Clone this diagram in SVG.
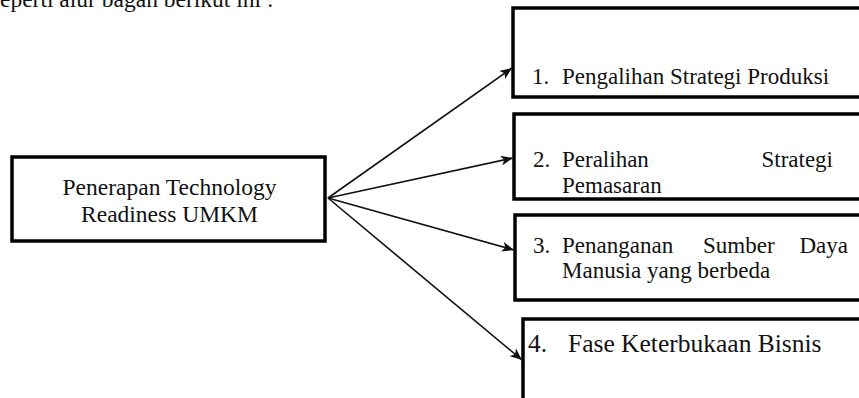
<svg xmlns="http://www.w3.org/2000/svg" width="859" height="398" viewBox="0 0 859 398">
<style>
text{font-family:"Liberation Serif","Times New Roman",serif;font-size:23px;fill:#111}
.box{fill:#fff;stroke:#000;stroke-width:3.5}
.con{stroke:#111;stroke-width:1.6;fill:none}
</style>
<defs>
<marker id="ah" viewBox="0 0 12 10" refX="12" refY="5" markerWidth="12" markerHeight="10" markerUnits="userSpaceOnUse" orient="auto">
<path d="M0,0 L12,5 L0,10 L3,5 Z" fill="#111"/>
</marker>
</defs>
<rect width="859" height="398" fill="#fff"/>
<text x="0" y="7" style="font-size:23.5px">eperti alur bagan berikut ini :</text>
<g id="main">
<rect class="box" x="12" y="157" width="313" height="84"/>
<text x="169.5" y="195" text-anchor="middle" style="font-size:23.5px">Penerapan Technology</text>
<text x="169.5" y="222" text-anchor="middle" style="font-size:23.5px">Readiness UMKM</text>
</g>
<g id="n1">
<rect class="box" x="513" y="8" width="360" height="89"/>
<text x="532" y="84">1.</text>
<text x="562" y="84">Pengalihan Strategi Produksi</text>
</g>
<g id="n2">
<rect class="box" x="514" y="114" width="360" height="85"/>
<text x="533" y="167">2.</text>
<text x="562" y="167">Peralihan</text>
<text x="833" y="167" text-anchor="end">Strategi</text>
<text x="562" y="193">Pemasaran</text>
</g>
<g id="n3">
<rect class="box" x="515" y="215" width="360" height="85"/>
<text x="533" y="253">3.</text>
<text x="562" y="253">Penanganan</text>
<text x="703" y="253">Sumber</text>
<text x="848" y="253" text-anchor="end">Daya</text>
<text x="562" y="278">Manusia yang berbeda</text>
</g>
<g id="n4">
<rect class="box" x="523" y="319" width="360" height="100"/>
<text x="528" y="352" style="font-size:25.5px">4.</text>
<text x="568" y="352" style="font-size:25.5px">Fase Keterbukaan Bisnis</text>
</g>
<g id="connectors">
<line class="con" x1="328" y1="198" x2="512" y2="68" marker-end="url(#ah)"/>
<line class="con" x1="328" y1="198" x2="513" y2="158" marker-end="url(#ah)"/>
<line class="con" x1="328" y1="198" x2="514" y2="250" marker-end="url(#ah)"/>
<line class="con" x1="328" y1="198" x2="522" y2="360" marker-end="url(#ah)"/>
</g>
</svg>
